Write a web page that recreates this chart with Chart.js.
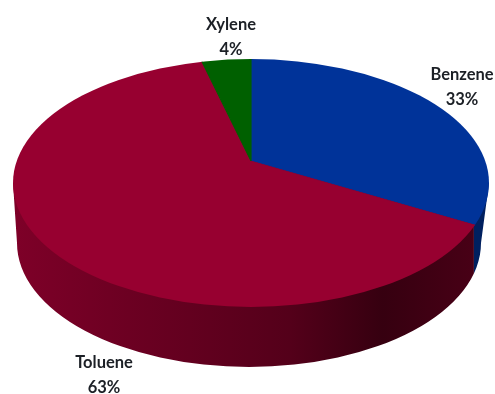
<!DOCTYPE html>
<html>
<head>
<meta charset="utf-8">
<style>
  html, body { margin: 0; padding: 0; background: #fff; }
  canvas { display: block; }
</style>
<script src="https://cdn.jsdelivr.net/npm/chart.js@4"></script>
</head>
<body>
<canvas id="pie" width="495" height="394"></canvas>
<script>
const categories = ['Benzene', 'Toluene', 'Xylene'];
const shares = [33, 63, 4];
const topColors = ['#003399', '#970030', '#006000'];

// where the outlines of the tilted disc sit on the page
const disc = { x: 251, y: 183, rx: 238, ry: 124 };
const base = { x: 249, y: 243, rx: 232, ry: 124 };
const apex = { x: 251, y: 161 };
const tilt = 0.52;

// label centres, same order as categories
const labelSpots = [[462, 75], [104, 363], [231, 25]];

// where a slice edge leaves the apex and hits the rim of the disc
function rimPoint(angle) {
  const dx = Math.cos(angle) * disc.rx;
  const dy = Math.sin(angle) * disc.rx * tilt;
  const ox = (apex.x - disc.x) / disc.rx, oy = (apex.y - disc.y) / disc.ry;
  const ux = dx / disc.rx, uy = dy / disc.ry;
  const a = ux * ux + uy * uy, b = 2 * (ox * ux + oy * uy), c = ox * ox + oy * oy - 1;
  const t = (-b + Math.sqrt(b * b - 4 * a * c)) / (2 * a);
  return { x: apex.x + dx * t, y: apex.y + dy * t };
}

const tiltedPie = {
  id: 'tiltedPie',
  beforeDatasetDraw(chart) {
    const { ctx } = chart;
    const arcs = chart.getDatasetMeta(0).data;
    const seam = rimPoint(arcs[1].startAngle);

    // side wall, only a sliver of blue shows right of the seam
    ctx.save();
    ctx.beginPath();
    ctx.ellipse(base.x, base.y, base.rx, base.ry, 0, 0, Math.PI * 2);
    ctx.moveTo(disc.x - disc.rx, disc.y);
    ctx.lineTo(disc.x + disc.rx, disc.y);
    ctx.lineTo(base.x + base.rx, base.y);
    ctx.lineTo(base.x - base.rx, base.y);
    ctx.closePath();
    ctx.clip();
    const wall = ctx.createLinearGradient(disc.x - disc.rx, 0, seam.x, 0);
    wall.addColorStop(0, '#7e0028');
    wall.addColorStop(0.25, '#6c0022');
    wall.addColorStop(0.6, '#54001a');
    wall.addColorStop(0.8, '#360010');
    wall.addColorStop(1, '#480016');
    ctx.fillStyle = wall;
    ctx.fillRect(0, 0, seam.x - 1, 394);
    ctx.fillStyle = '#00205f';
    ctx.fillRect(seam.x - 1, 0, 496 - seam.x, 394);
    ctx.restore();

    // top face: the library's arcs, stretched from the apex and cut at the rim
    ctx.save();
    ctx.beginPath();
    ctx.ellipse(disc.x, disc.y, disc.rx, disc.ry, 0, 0, Math.PI * 2);
    ctx.clip();
    arcs.forEach((arc) => {
      const stretch = disc.rx * 1.6 / arc.outerRadius;
      ctx.save();
      ctx.translate(apex.x, apex.y);
      ctx.scale(stretch, stretch * tilt);
      ctx.translate(-arc.x, -arc.y);
      arc.draw(ctx);
      ctx.restore();
    });
    ctx.restore();
    return false;
  },
  afterDraw(chart) {
    const { ctx } = chart;
    ctx.save();
    ctx.fillStyle = '#1c2026';
    ctx.font = '700 16.5px Lato';
    ctx.textAlign = 'center';
    ctx.textBaseline = 'middle';
    categories.forEach((name, i) => {
      const [x, y] = labelSpots[i];
      ctx.fillText(name, x, y);
      ctx.fillText(shares[i] + '%', x, y + 25);
    });
    ctx.restore();
  },
};

new Chart(document.getElementById('pie'), {
  type: 'pie',
  data: {
    labels: categories,
    datasets: [{ data: shares, backgroundColor: topColors, borderColor: topColors, borderWidth: 0.6 }],
  },
  options: {
    responsive: false,
    animation: false,
    plugins: { legend: { display: false }, tooltip: { enabled: false } },
  },
  plugins: [tiltedPie],
});
</script>
</body>
</html>
